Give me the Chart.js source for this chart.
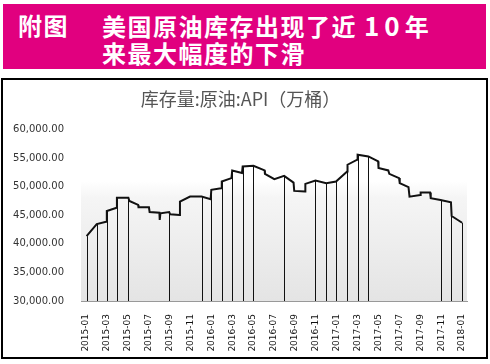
<!DOCTYPE html>
<html>
<head>
<meta charset="utf-8">
<script src="https://cdn.jsdelivr.net/npm/chart.js@4.4.0/dist/chart.umd.min.js"></script>
<style>
  html, body { margin: 0; padding: 0; background: #fff; }
  body { width: 490px; height: 364px; position: relative; overflow: hidden; }
  .band { position: absolute; left: 3px; top: 4px; width: 483px; height: 65px; background: #e1007f; }
  .band div { position: absolute; color: #fff; font-family: "Noto Sans CJK SC", sans-serif; font-weight: bold;
              font-size: 24px; line-height: 28px; white-space: nowrap; letter-spacing: 1.5px; }
  .band .num { font-size: 26px; letter-spacing: 5px; }
  .box { position: absolute; left: 1px; top: 78px; width: 483px; height: 277px; border: 2px solid #000; }
  #stockChart { position: absolute; left: 0; top: 0; }
</style>
</head>
<body>
<div class="band">
  <div style="left:15px; top:7px;">附图</div>
  <div style="left:99px; top:7px;">美国原油库存出现了近 <span class="num">10</span>年</div>
  <div style="left:99px; top:35px;">来最大幅度的下滑</div>
</div>
<div class="box"><canvas id="stockChart" width="483" height="277"></canvas></div>
<script>
// ----------------------------------------------------
// Data: API crude oil stocks (10k barrels)
// ----------------------------------------------------
const dates = [
    '2015-01-03', '2015-02-02', '2015-02-27', '2015-03-01', '2015-03-30', '2015-03-31',
    '2015-05-03', '2015-05-06', '2015-06-01', '2015-06-02', '2015-07-02', '2015-07-04',
    '2015-08-02', '2015-08-03', '2015-08-05', '2015-08-31', '2015-09-03', '2015-09-30',
    '2015-10-01', '2015-10-31', '2015-12-03', '2015-12-30', '2016-01-01', '2016-01-30',
    '2016-02-01', '2016-02-28', '2016-03-01', '2016-03-30', '2016-04-01', '2016-05-02',
    '2016-06-04', '2016-06-05', '2016-07-02', '2016-07-31', '2016-08-28', '2016-08-30',
    '2016-09-30', '2016-10-01', '2016-10-31', '2016-12-01', '2016-12-30', '2017-02-01',
    '2017-02-02', '2017-02-28', '2017-03-01', '2017-04-02', '2017-04-30', '2017-05-01',
    '2017-05-30', '2017-06-02', '2017-06-30', '2017-07-02', '2017-07-28', '2017-07-31',
    '2017-09-01', '2017-09-02', '2017-09-29', '2017-10-01', '2017-10-30', '2017-11-29',
    '2017-12-01', '2018-01-01'
];
const stocks = [
    41350, 43460, 43870, 45750, 46330, 48090,
    48090, 47510, 46810, 46400, 46400, 45580,
    45450, 44200, 45350, 45580, 45170, 45050,
    47390, 48270, 48270, 47810, 49450, 49750,
    50910, 51510, 52840, 52390, 53550, 53670,
    52850, 52260, 51330, 51910, 50730, 49270,
    49150, 50500, 51080, 50630, 50910, 52670,
    53850, 54730, 55610, 55310, 54430, 53270,
    52850, 52260, 51510, 50630, 49920, 48270,
    48570, 48970, 48970, 47990, 47690, 47280,
    44870, 43690
];
// dates where the chart drops a vertical line down to the axis
const dropDates = [
    '2015-01-03', '2015-02-02', '2015-03-01', '2015-03-31', '2015-05-03', '2015-08-31',
    '2015-12-03', '2016-01-01', '2016-02-01', '2016-03-01', '2016-04-01', '2016-05-02',
    '2016-07-31', '2016-10-31', '2016-12-01', '2016-12-30', '2017-02-01', '2017-03-01',
    '2017-04-02', '2017-10-30', '2017-11-29', '2018-01-01'
];
const tickLabels = [
    '2015-01', '2015-03', '2015-05', '2015-07', '2015-09', '2015-11',
    '2016-01', '2016-03', '2016-05', '2016-07', '2016-09', '2016-11',
    '2017-01', '2017-03', '2017-05', '2017-07', '2017-09', '2017-11', '2018-01'
];
const yTicks = [30000, 35000, 40000, 45000, 50000, 55000, 60000];
const chartTitle = '库存量:原油:API（万桶）';

// months since 2015-01, fractional by day
function monthPos(d) {
    const [y, m, day] = d.split('-').map(Number);
    const dim = new Date(y, m, 0).getDate();
    return (y - 2015) * 12 + (m - 1) + (day - 1) / dim;
}

const labelFont = { family: 'DejaVu Sans', size: 10 };

// plot background: white on top fading into light grey
const plotBackground = {
    id: 'plotBackground',
    beforeDatasetsDraw(chart) {
        const { ctx, chartArea: a } = chart;
        const g = ctx.createLinearGradient(0, a.top, 0, a.bottom);
        g.addColorStop(0, '#ffffff');
        g.addColorStop(0.3, '#ffffff');
        g.addColorStop(0.4, '#f5f5f5');
        g.addColorStop(1, '#e4e4e4');
        ctx.save();
        ctx.fillStyle = g;
        ctx.fillRect(a.left, a.top, a.right - a.left, a.bottom - a.top);
        ctx.restore();
    }
};

// vertical drop lines from the series down to the axis
const dropLines = {
    id: 'dropLines',
    beforeDatasetsDraw(chart) {
        const { ctx, scales: { x, y } } = chart;
        ctx.save();
        ctx.strokeStyle = '#111';
        ctx.lineWidth = 1;
        dropDates.forEach(d => {
            const i = dates.indexOf(d);
            if (i < 0) return;
            const px = Math.round(x.getPixelForValue(monthPos(d))) + 0.5;
            ctx.beginPath();
            ctx.moveTo(px, y.getPixelForValue(stocks[i]));
            ctx.lineTo(px, y.getPixelForValue(yTicks[0]));
            ctx.stroke();
        });
        ctx.restore();
    }
};

const ctxStock = document.getElementById('stockChart').getContext('2d');
new Chart(ctxStock, {
    type: 'line',
    data: {
        datasets: [{
            data: dates.map((d, i) => ({ x: monthPos(d), y: stocks[i] })),
            borderColor: '#111',
            borderWidth: 2,
            pointRadius: 0,
            tension: 0,
            fill: false
        }]
    },
    options: {
        responsive: false,
        animation: false,
        layout: { padding: { left: 0, right: 8, top: 0, bottom: 0 } },
        plugins: {
            legend: { display: false },
            tooltip: { enabled: false },
            title: {
                display: true,
                text: chartTitle,
                color: '#555',
                font: { family: 'Noto Sans CJK SC', size: 18, weight: 'normal' },
                padding: { top: 8, bottom: 20 }
            }
        },
        scales: {
            x: {
                type: 'linear',
                min: -0.47,
                max: 36.47,
                afterBuildTicks: s => { s.ticks = tickLabels.map((t, i) => ({ value: i * 2 })); },
                afterFit: s => { s.height = 56; },
                ticks: {
                    autoSkip: false,
                    minRotation: 90,
                    maxRotation: 90,
                    padding: 13,
                    color: '#111',
                    font: { family: 'DejaVu Sans', size: 9 },
                    callback: v => tickLabels[Math.round(v / 2)]
                },
                grid: { display: false, drawTicks: false },
                border: { display: true, color: '#999', width: 1 }
            },
            y: {
                min: yTicks[0],
                max: yTicks[yTicks.length - 1],
                afterBuildTicks: s => { s.ticks = yTicks.map(v => ({ value: v })); },
                afterFit: s => { s.width = 78; },
                ticks: {
                    padding: 17,
                    color: '#333',
                    font: labelFont,
                    callback: v => v.toLocaleString('en-US', { minimumFractionDigits: 2, maximumFractionDigits: 2 })
                },
                grid: { display: false, drawTicks: false },
                border: { display: false }
            }
        }
    },
    plugins: [plotBackground, dropLines]
});
</script>
</body>
</html>
